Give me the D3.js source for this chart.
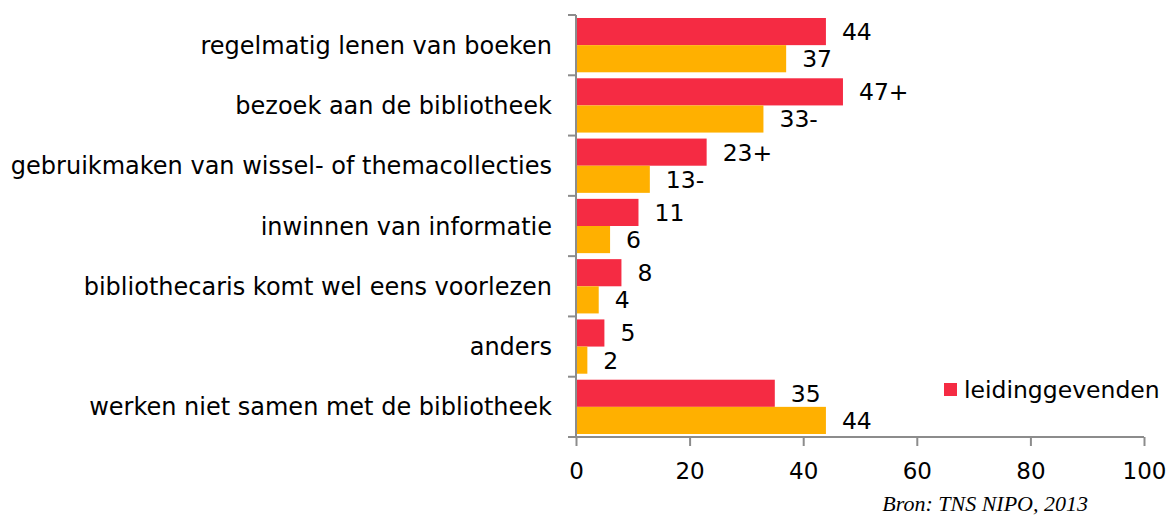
<!DOCTYPE html>
<html>
<head>
<meta charset="utf-8">
<script src="https://cdn.jsdelivr.net/npm/d3@7"></script>
<style>
  body { margin: 0; background: #fff; }
  svg text { font-family: "DejaVu Sans", Verdana, sans-serif; fill: #000; }
</style>
</head>
<body>
<svg id="chart" width="1170" height="517"></svg>
<script>
// categorieën en waarden
const categories = [
    "regelmatig lenen van boeken",
    "bezoek aan de bibliotheek",
    "gebruikmaken van wissel- of themacollecties",
    "inwinnen van informatie",
    "bibliothecaris komt wel eens voorlezen",
    "anders",
    "werken niet samen met de bibliotheek"
];
const leidinggevenden = [44, 47, 23, 11, 8, 5, 35];
const leidingLabels = ["44", "47+", "23+", "11", "8", "5", "35"];
const leerkrachten = [37, 33, 13, 6, 4, 2, 44];
const leerkrachtLabels = ["37", "33-", "13-", "6", "4", "2", "44"];
const xTicks = [0, 20, 40, 60, 80, 100];

const red = "#f52b43";
const orange = "#ffb000";
const axisColor = "#8c8c8c";

const svg = d3.select("#chart");
const plotLeft = 576, plotRight = 1144, plotTop = 15, plotBottom = 437;

const x = d3.scaleLinear().domain([0, 100]).range([plotLeft, plotRight]);
const y = d3.scaleBand().domain(categories).range([plotTop, plotBottom]);
const inner = d3.scaleBand().domain(["a", "b"]).range([3, y.bandwidth() - 3]);

// balken
const groups = svg.selectAll("g.cat")
    .data(categories)
    .enter().append("g")
    .attr("class", "cat")
    .attr("transform", d => `translate(0,${y(d)})`);

groups.append("rect")
    .attr("x", x(0))
    .attr("y", inner("a"))
    .attr("width", (d, i) => x(leidinggevenden[i]) - x(0))
    .attr("height", inner.bandwidth())
    .attr("fill", red);

groups.append("rect")
    .attr("x", x(0))
    .attr("y", inner("b"))
    .attr("width", (d, i) => x(leerkrachten[i]) - x(0))
    .attr("height", inner.bandwidth())
    .attr("fill", orange);

// waardelabels
groups.append("text")
    .attr("x", (d, i) => x(leidinggevenden[i]) + 16)
    .attr("y", inner("a") + inner.bandwidth() / 2)
    .attr("dy", "0.36em")
    .style("font-size", "23.5px")
    .text((d, i) => leidingLabels[i]);

groups.append("text")
    .attr("x", (d, i) => x(leerkrachten[i]) + 16)
    .attr("y", inner("b") + inner.bandwidth() / 2)
    .attr("dy", "0.36em")
    .style("font-size", "23.5px")
    .text((d, i) => leerkrachtLabels[i]);

// categorie labels
groups.append("text")
    .attr("x", 552)
    .attr("y", y.bandwidth() / 2)
    .attr("dy", "0.36em")
    .attr("text-anchor", "end")
    .style("font-size", "24px")
    .text(d => d);

// y-as
const yAxis = svg.append("g");
yAxis.append("line")
    .attr("x1", plotLeft).attr("x2", plotLeft)
    .attr("y1", plotTop).attr("y2", plotBottom)
    .attr("stroke", axisColor).attr("stroke-width", 2);
yAxis.selectAll("line.tick")
    .data(d3.range(categories.length + 1))
    .enter().append("line")
    .attr("x1", plotLeft - 8).attr("x2", plotLeft)
    .attr("y1", i => plotTop + i * y.step())
    .attr("y2", i => plotTop + i * y.step())
    .attr("stroke", axisColor).attr("stroke-width", 2);

// x-as
const xAxis = svg.append("g")
    .attr("transform", `translate(0,${plotBottom})`)
    .call(d3.axisBottom(x).tickValues(xTicks).tickSize(9).tickPadding(10));
xAxis.select(".domain").attr("stroke", axisColor).attr("stroke-width", 2)
    .attr("d", `M${plotLeft},0H${plotRight}`);
xAxis.selectAll(".tick line").attr("stroke", axisColor).attr("stroke-width", 2);
xAxis.selectAll(".tick text")
    .attr("y", 42)
    .attr("dy", null)
    .style("font-size", "23px")
    .style("font-family", "'DejaVu Sans', Verdana, sans-serif")
    .attr("fill", "#000");

// legenda
svg.append("rect")
    .attr("x", 944).attr("y", 383)
    .attr("width", 13).attr("height", 13)
    .attr("fill", red);
svg.append("text")
    .attr("x", 964).attr("y", 389.5)
    .attr("dy", "0.36em")
    .style("font-size", "23.5px")
    .text("leidinggevenden");

// bron
svg.append("text")
    .attr("x", 1088).attr("y", 511)
    .attr("text-anchor", "end")
    .style("font-family", "'Liberation Serif', 'Times New Roman', serif")
    .style("font-style", "italic")
    .style("font-size", "22px")
    .text("Bron: TNS NIPO, 2013");
</script>
</body>
</html>
